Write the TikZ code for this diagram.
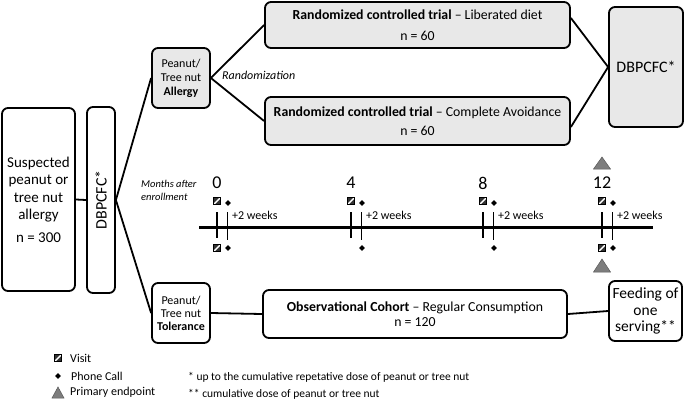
\documentclass[tikz,border=0pt]{standalone}
\usepackage{fontspec}
\setmainfont{Carlito}
\usetikzlibrary{shapes.geometric}
\definecolor{boxgray}{RGB}{232,232,232}
\definecolor{trigray}{RGB}{125,125,125}
\tikzset{
  box/.style={draw, line width=1.8bp, rounded corners=6bp, inner sep=0pt, align=center},
  graybox/.style={box, fill=boxgray},
  conn/.style={line width=1.8bp},
  visitsq/.style={draw=black, line width=0.6bp, fill=black!80, minimum size=7bp, inner sep=0pt,
    path picture={\draw[white, line width=1.4bp] (path picture bounding box.south west) -- (path picture bounding box.north east);}},
  phone/.style={diamond, fill=black, minimum size=6bp, inner sep=0pt},
  tri/.style={fill=trigray, draw=trigray!70!black, line width=0.5bp},
  month/.style={font=\fontsize{18bp}{20bp}\selectfont, inner sep=0pt},
  weeks/.style={font=\fontsize{12bp}{14bp}\selectfont, inner sep=0pt, anchor=west},
  legtext/.style={font=\fontsize{12bp}{14bp}\selectfont, inner sep=0pt, anchor=west},
  foot/.style={font=\fontsize{11.5bp}{13bp}\selectfont, inner sep=0pt, anchor=west},
}
\newcommand\fsz[2]{\fontsize{#1bp}{#2bp}\selectfont}
\begin{document}
\begin{tikzpicture}[x=1bp,y=-1bp]
\useasboundingbox (0,0) rectangle (685,401);

% main boxes
\node[box, minimum width=73bp, minimum height=183bp, font=\fsz{15}{17.5}] (susp) at (38.5,199.5)
  {Suspected\\peanut or\\tree nut\\allergy\\[5bp]n = 300};
\node[box, minimum width=28bp, minimum height=186bp] (dbv) at (101,200) {};
\node[rotate=90, font=\fsz{16}{18}, inner sep=0pt] (dbvt) at (dbv.center) {DBPCFC*};

\node[graybox, minimum width=58bp, minimum height=60bp, font=\fsz{12}{14}] (allergy) at (181,78)
  {Peanut/\\Tree nut\\\textbf{Allergy}};
\node[box, minimum width=58bp, minimum height=60bp, font=\fsz{12}{13}] (toler) at (181,313)
  {Peanut/\\Tree nut\\\textbf{Tolerance}};

\node[graybox, minimum width=305bp, minimum height=46bp, font=\fsz{13.8}{16.5}] (rct1) at (417.5,25)
  {\textbf{Randomized controlled trial} -- Liberated diet\\[4bp]n = 60};
\node[graybox, minimum width=305bp, minimum height=48bp, font=\fsz{13.8}{16.5}] (rct2) at (417.5,121)
  {\textbf{Randomized controlled trial} -- Complete Avoidance\\[3bp]n = 60};
\node[box, minimum width=304bp, minimum height=48bp, font=\fsz{13.8}{15.5}] (cohort) at (415,314)
  {\textbf{Observational Cohort} -- Regular Consumption\\n = 120};

\node[graybox, minimum width=74bp, minimum height=120bp, font=\fsz{16}{18}] (dbr) at (646,67) {DBPCFC*};
\node[box, minimum width=73bp, minimum height=60bp, font=\fsz{15.5}{16.5}] (feed) at (645.5,311)
  {Feeding of\\one\\serving**};

% connectors
\draw[conn] (susp.east) -- (dbv.west);
\draw[conn] (dbv.east) -- (allergy.west);
\draw[conn] (dbv.east) -- (toler.west);
\draw[conn] (allergy.east) -- (rct1.west);
\draw[conn] (allergy.east) -- (rct2.west);
\draw[conn] ([yshift=7bp]rct1.east) -- (dbr.west);
\draw[conn] ([yshift=-6bp]rct2.east) -- (dbr.west);
\draw[conn] (toler.east) -- (cohort.west);
\draw[conn] (cohort.east) -- (feed.west);

\node[font=\fsz{12}{14}\itshape, inner sep=0pt, anchor=west] (rand) at (222,75) {Randomization};
\node[font=\fsz{10.5}{13}\itshape, inner sep=0pt, align=left, anchor=west] (mae) at (141,190)
  {Months after\\enrollment};

% timeline
\coordinate (tlA) at (199,227);
\coordinate (tlB) at (653,227);
\draw[line width=3bp] (tlA) -- (tlB);

\foreach \X/\lab/\nm in {217/0/a,351/4/b,483/8/c,602/12/d}{
  \coordinate (tk\nm) at (\X,212);
  \coordinate (tkb\nm) at (\X,238);
  \coordinate (tw\nm) at (\X+10.5,212);
  \coordinate (twb\nm) at (\X+10.5,240);
  \draw[line width=2bp] (tk\nm) -- (tkb\nm);
  \draw[line width=1bp] (tw\nm) -- (twb\nm);
  \node[month] (m\nm) at (\X,183) {\lab};
  \node[visitsq] (vt\nm) at (\X,201) {};
  \node[phone] (pt\nm) at (\X+11,203) {};
  \node[phone] (pb\nm) at (\X+11,248) {};
  \node[weeks] (w\nm) at (\X+15,215) {+2 weeks};
}
\node[visitsq] (vba) at (217,248) {};
\node[visitsq] (vbd) at (602,248) {};
\fill[tri] (593.5,169) -- (610.5,169) -- (602,157) -- cycle;
\fill[tri] (593.5,272) -- (610.5,272) -- (602,259) -- cycle;

% legend
\node[visitsq] (lv) at (58,358) {};
\node[legtext] (lvt) at (70,358) {Visit};
\node[phone] (lp) at (58,376) {};
\node[legtext] (lpt) at (71,376) {Phone Call};
\fill[tri] (52,398) -- (64,398) -- (58,387) -- cycle;
\node[legtext] (ltt) at (70,392) {Primary endpoint};

\node[foot] (f1) at (188,377) {* up to the cumulative repetative dose of peanut or tree nut};
\node[foot] (f2) at (188,394) {** cumulative dose of peanut or tree nut};
\end{tikzpicture}
\end{document}
